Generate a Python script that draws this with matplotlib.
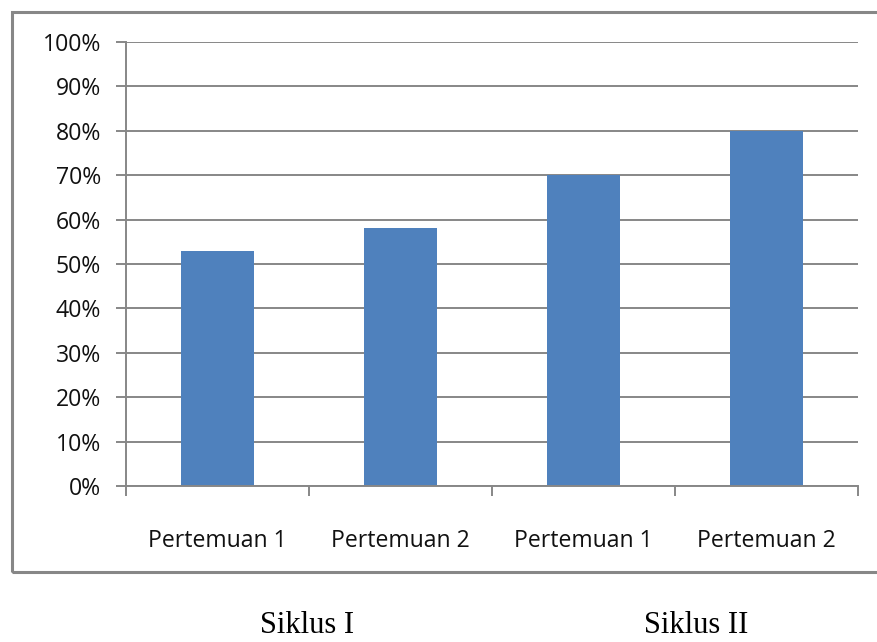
import matplotlib.pyplot as plt
from matplotlib.patches import Rectangle
from matplotlib.ticker import PercentFormatter, FixedLocator
import numpy as np

# data
categories = ["Pertemuan 1", "Pertemuan 2", "Pertemuan 1", "Pertemuan 2"]
values = [53, 58, 70, 80]
groups = ["Siklus I", "Siklus II"]

gray = "#878787"

fig = plt.figure(figsize=(8.78, 6.42), dpi=100)
ax = fig.add_axes([126 / 878, 1 - 486 / 642, (858 - 126) / 878, (486 - 42) / 642])

x = np.arange(len(categories))
ax.bar(x, values, width=0.4, color="#4F81BD", zorder=3)

ax.set_xlim(-0.5, len(categories) - 0.5)
ax.set_ylim(0, 100)
ax.set_yticks(np.arange(0, 101, 10))
ax.yaxis.set_major_formatter(PercentFormatter(decimals=0))
ax.grid(axis="y", color=gray, linewidth=1.4, zorder=0)

ax.set_xticks(x)
ax.set_xticklabels(categories)
ax.xaxis.set_minor_locator(FixedLocator(np.arange(-0.5, len(categories), 1)))
ax.tick_params(axis="x", which="major", length=0, pad=31)
ax.tick_params(axis="x", which="minor", length=7, width=1.4, color=gray)
ax.tick_params(axis="y", length=7, width=1.4, color=gray, pad=11)

for lab in ax.get_xticklabels() + ax.get_yticklabels():
    lab.set_fontfamily("Open Sans")
    lab.set_fontsize(16.6)
    lab.set_color("#111111")

for s in ["top", "right"]:
    ax.spines[s].set_visible(False)
for s in ["left", "bottom"]:
    ax.spines[s].set_color(gray)
    ax.spines[s].set_linewidth(1.4)
    ax.spines[s].set_zorder(4)

# outer chart border (right edge runs off the picture)
fig.patches.append(Rectangle((12 / 878, 1 - 572 / 642), 880 / 878, 560 / 642,
                             transform=fig.transFigure, fill=False,
                             edgecolor=gray, linewidth=2.2))

fig.text(307 / 878, 1 - 633 / 642, groups[0], ha="center", va="baseline",
         fontfamily="Liberation Serif", fontsize=22)
fig.text(696 / 878, 1 - 633 / 642, groups[1], ha="center", va="baseline",
         fontfamily="Liberation Serif", fontsize=22)

fig.savefig("out.png", dpi=100)
